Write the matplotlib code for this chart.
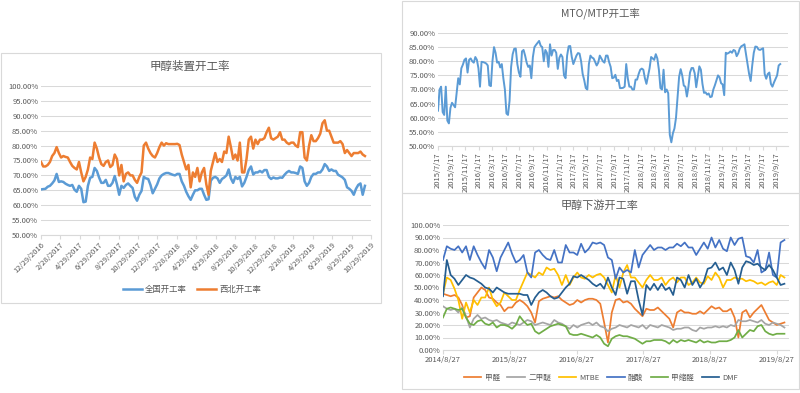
import numpy as np
import pandas as pd
import matplotlib
matplotlib.use("Agg")
import matplotlib.pyplot as plt
from matplotlib.patches import Rectangle

plt.rcParams['font.family'] = ['Noto Sans CJK SC', 'DejaVu Sans']

# ---- left chart: methanol plant operating rate (weekly, from 2016-12-29) ----
left_start = '2016-12-29'
national_rate = [65.3, 65.4, 65.5, 66.2, 66.5, 67.3, 68.3, 70.5, 67.8, 68.0,
                 67.8, 67.2, 66.8, 66.5, 66.8, 65.2, 64.5, 66.5, 65.5, 61.0,
                 61.2, 66.5, 69.2, 69.5, 72.5, 71.5, 69.3, 67.5, 67.5, 68.5,
                 66.5, 66.5, 67.5, 69.8, 67.0, 63.5, 66.5, 65.8, 66.8, 67.3,
                 66.5, 65.8, 62.8, 61.5, 63.5, 64.8, 69.5, 69.0, 68.8, 66.8,
                 64.0, 65.5, 67.0, 69.0, 70.0, 70.5, 70.8, 70.8, 70.5, 70.2,
                 70.0, 70.5, 70.5, 68.0, 66.5, 64.5, 63.0, 61.8, 63.5, 65.0,
                 65.0, 65.5, 65.5, 63.5, 61.8, 62.0, 68.2, 69.2, 69.5, 69.0,
                 67.5, 68.8, 69.3, 70.0, 72.0, 69.0, 67.5, 69.5, 68.8, 69.5,
                 66.3, 67.5, 69.5, 71.8, 73.0, 70.3, 71.0, 71.0, 71.5, 71.0,
                 71.8, 71.8, 69.5, 68.8, 69.3, 69.0, 69.0, 69.3, 69.2, 70.2,
                 71.0, 71.5, 71.0, 71.0, 70.8, 70.5, 73.0, 72.5, 68.0, 66.5,
                 67.5, 69.5, 70.5, 70.5, 71.0, 71.0, 72.0, 73.8, 73.0, 71.5,
                 72.0, 71.5, 71.5, 70.2, 69.8, 69.3, 68.5, 66.0, 65.5, 64.8,
                 63.5, 65.5, 66.8, 67.3, 63.5, 66.5]
northwest_rate = [74.5, 73.0, 73.0, 73.5, 74.5, 76.5, 77.5, 79.5, 77.5, 76.0,
                  76.5, 76.2, 76.0, 74.5, 73.2, 72.5, 72.0, 74.5, 71.0, 68.0,
                  69.5, 72.0, 76.0, 75.5, 81.0, 79.0, 76.0, 73.8, 73.2, 74.5,
                  75.0, 72.8, 73.5, 77.0, 75.5, 70.0, 73.5, 68.0, 70.5, 71.0,
                  70.0, 70.0, 68.5, 67.5, 69.5, 71.0, 80.0, 81.0, 79.0, 77.5,
                  76.5, 76.0, 77.5, 79.5, 81.0, 80.0, 80.8, 80.5, 80.5, 80.5,
                  80.5, 80.6, 80.2, 77.0, 74.5, 72.0, 73.5, 66.0, 71.0, 69.5,
                  72.5, 68.0, 71.0, 72.5, 67.0, 63.5, 71.5, 74.5, 77.5, 74.5,
                  75.5, 74.5, 78.0, 77.5, 83.0, 79.5, 75.5, 77.0, 75.0, 81.0,
                  71.0, 71.0, 75.5, 82.0, 83.0, 79.0, 82.0, 80.5, 82.0, 82.0,
                  82.5, 84.5, 86.0, 82.5, 82.0, 82.5, 83.0, 84.5, 82.0, 82.0,
                  81.0, 80.5, 81.0, 81.0, 80.0, 79.5, 84.5, 84.5, 76.0, 75.0,
                  80.0, 83.5, 81.5, 81.5, 82.5, 84.0, 87.5, 88.5, 85.0, 85.0,
                  83.0, 81.0, 81.0, 81.0, 81.5, 80.5, 77.5, 78.5, 77.5, 76.5,
                  77.5, 77.5, 77.5, 78.0, 77.0, 76.5]
left_ticks = ['12/29/2016', '2/28/2017', '4/29/2017', '6/29/2017', '8/29/2017',
              '10/29/2017', '12/29/2017', '2/28/2018', '4/29/2018', '6/29/2018',
              '8/29/2018', '10/29/2018', '12/29/2018', '2/28/2019', '4/29/2019',
              '6/29/2019', '8/29/2019', '10/29/2019']

# ---- top right: MTO/MTP operating rate (weekly, from 2015-07-17) ----
mto_start = '2015-07-17'
mto_rate = [62.5, 70.0, 71.0, 62.0, 61.0, 71.0, 59.0, 58.0, 63.5, 65.3,
            64.5, 63.7, 69.0, 74.0, 71.8, 77.5, 78.8, 80.5, 81.0, 76.0,
            80.5, 81.0, 80.0, 79.5, 81.5, 80.5, 77.5, 71.0, 79.8, 79.7,
            79.5, 79.2, 78.5, 71.5, 71.2, 80.0, 85.0, 83.0, 79.5, 79.8,
            77.8, 79.0, 74.0, 70.0, 61.5, 61.0, 66.0, 78.0, 82.5, 84.4,
            84.5, 79.0, 76.0, 74.5, 83.5, 84.0, 82.0, 79.5, 78.0, 78.5,
            74.0, 81.5, 85.0, 85.8, 86.5, 87.2, 85.5, 85.0, 80.0, 84.0,
            83.0, 78.0, 86.0, 82.0, 84.0, 84.0, 83.0, 77.3, 81.2, 82.4,
            81.5, 75.0, 74.0, 82.0, 85.3, 85.4, 81.5, 79.0, 80.5, 82.0,
            82.9, 82.7, 80.0, 75.5, 73.3, 70.5, 70.0, 79.0, 82.0, 81.3,
            81.0, 79.8, 78.5, 79.5, 82.0, 81.0, 80.0, 79.5, 82.0, 82.0,
            79.7, 78.0, 74.0, 74.2, 75.2, 73.0, 73.4, 70.5, 70.5, 70.6,
            71.0, 79.0, 74.0, 71.0, 71.0, 70.0, 70.0, 73.5, 73.5, 75.5,
            77.0, 77.4, 77.0, 74.0, 72.0, 74.8, 77.5, 81.5, 81.0, 80.5,
            82.5, 81.0, 77.0, 70.5, 70.0, 77.0, 69.0, 70.0, 68.7, 54.0,
            51.3, 54.5, 56.2, 60.0, 67.5, 74.5, 77.2, 75.0, 71.4, 71.0,
            67.5, 71.0, 76.0, 77.6, 77.6, 75.8, 70.8, 74.5, 78.2, 77.0,
            72.0, 68.8, 69.0, 68.2, 68.6, 67.3, 67.5, 70.0, 71.5, 73.2,
            75.0, 74.3, 72.2, 71.8, 68.0, 83.0, 82.7, 83.0, 83.5, 83.0,
            84.0, 83.7, 81.8, 82.8, 84.5, 85.3, 85.6, 86.0, 82.5, 79.2,
            75.5, 73.0, 78.5, 83.0, 85.2, 85.1, 84.2, 84.0, 84.3, 84.6,
            75.5, 73.8, 75.5, 76.0, 72.0, 71.0, 72.5, 73.8, 75.0, 78.5,
            79.0]
mto_ticks = ['2015/7/17', '2015/9/17', '2015/11/17', '2016/1/17', '2016/3/17',
             '2016/5/17', '2016/7/17', '2016/9/17', '2016/11/17', '2017/1/17',
             '2017/3/17', '2017/5/17', '2017/7/17', '2017/9/17', '2017/11/17',
             '2018/1/17', '2018/3/17', '2018/5/17', '2018/7/17', '2018/9/17',
             '2018/11/17', '2019/1/17', '2019/3/17', '2019/5/17', '2019/7/17',
             '2019/9/17']

# ---- bottom right: downstream operating rates (every 3 weeks, from 2014-08-27) ----
down_start = '2014-08-27'
formaldehyde = [45, 44, 43, 44, 42, 36, 26, 27, 42, 46, 50, 48, 42, 41, 38, 36, 31, 34, 34, 38,
                40, 38, 35, 30, 22, 39, 41, 42, 43, 42, 43, 40, 38, 36, 37, 40, 38, 40, 41, 41,
                40, 37, 22, 6, 30, 40, 41, 38, 39, 37, 33, 30, 27, 33, 32, 32, 34, 31, 28, 25,
                18, 30, 32, 30, 30, 29, 29, 31, 29, 32, 35, 33, 34, 31, 31, 33, 26, 10, 30, 32,
                26, 30, 33, 36, 30, 24, 22, 20, 21, 22]
dme = [35, 33, 32, 33, 30, 34, 27, 18, 25, 28, 25, 26, 24, 23, 24, 22, 21, 20, 22, 21,
       20, 22, 24, 23, 20, 21, 22, 21, 20, 24, 22, 21, 19, 17, 20, 18, 20, 21, 22, 20,
       22, 19, 18, 15, 17, 18, 20, 19, 18, 20, 19, 18, 20, 17, 20, 19, 18, 20, 19, 18,
       16, 17, 17, 18, 18, 16, 15, 18, 17, 18, 18, 19, 18, 19, 18, 20, 19, 24, 23, 23,
       24, 23, 22, 24, 21, 20, 22, 21, 20, 18]
mtbe = [45, 58, 56, 49, 40, 25, 38, 30, 40, 36, 42, 42, 50, 40, 35, 38, 46, 43, 40, 40,
        48, 55, 62, 60, 58, 62, 60, 66, 64, 65, 60, 52, 60, 52, 58, 62, 58, 57, 60, 58,
        60, 61, 58, 52, 46, 60, 50, 62, 68, 58, 58, 54, 50, 56, 60, 56, 56, 58, 52, 56,
        58, 54, 58, 58, 52, 54, 58, 54, 53, 59, 56, 62, 58, 50, 56, 56, 58, 57, 57, 55,
        56, 55, 53, 54, 52, 54, 55, 52, 60, 58]
acetic_acid = [72, 83, 81, 80, 83, 78, 83, 72, 83, 76, 70, 65, 80, 74, 63, 74, 80, 86, 77, 70,
               72, 76, 62, 58, 78, 80, 76, 73, 72, 80, 70, 70, 84, 78, 78, 76, 85, 78, 81, 86,
               85, 86, 84, 74, 72, 57, 66, 62, 64, 62, 80, 66, 76, 80, 84, 80, 82, 82, 80, 82,
               82, 85, 83, 86, 82, 82, 76, 81, 86, 81, 90, 82, 88, 81, 79, 90, 84, 89, 90, 75,
               74, 70, 80, 62, 64, 78, 60, 58, 86, 88]
methylal = [26, 33, 34, 33, 32, 33, 26, 21, 20, 23, 24, 21, 20, 22, 18, 20, 20, 19, 17, 20,
            27, 23, 20, 21, 15, 13, 15, 17, 19, 20, 21, 20, 19, 13, 12, 12, 13, 12, 11, 10,
            12, 10, 5, 3, 9, 11, 12, 11, 11, 10, 9, 7, 5, 7, 7, 8, 8, 8, 7, 5,
            8, 6, 8, 7, 8, 7, 6, 8, 6, 7, 6, 6, 7, 7, 7, 8, 10, 16, 10, 13,
            16, 15, 19, 20, 15, 13, 12, 13, 13, 13]
dmf = [43, 72, 60, 57, 52, 56, 60, 58, 57, 55, 53, 50, 49, 46, 50, 48, 46, 45, 45, 45,
       45, 44, 44, 36, 42, 46, 48, 46, 43, 41, 42, 46, 50, 53, 59, 58, 60, 58, 56, 53,
       51, 53, 49, 58, 50, 44, 58, 57, 45, 55, 55, 40, 28, 52, 48, 53, 48, 53, 48, 50,
       44, 58, 56, 50, 60, 52, 57, 50, 55, 65, 66, 70, 64, 66, 60, 70, 64, 53, 66, 71,
       70, 68, 69, 66, 64, 68, 64, 58, 52, 53]
down_ticks = ['2014/8/27', '2015/8/27', '2016/8/27', '2017/8/27', '2018/8/27', '2019/8/27']
down_names = ['甲醛', '二甲醚', 'MTBE', '醋酸', '甲缩醛', 'DMF']
down_colors = ['#ED7D31', '#A5A5A5', '#FFC000', '#4472C4', '#70AD47', '#255E91']

W, H = 800, 393
TXT = '#595959'
GRID = '#D9D9D9'


def px_rect(x0, y0, x1, y1):
    # pixel box (top-left origin) -> figure fraction [left, bottom, width, height]
    return [x0 / W, 1 - y1 / H, (x1 - x0) / W, (y1 - y0) / H]


def panel_border(fig, x0, y0, x1, y1):
    r = px_rect(x0, y0, x1, y1)
    fig.add_artist(Rectangle((r[0], r[1]), r[2], r[3], transform=fig.transFigure,
                             fill=False, edgecolor=GRID, linewidth=0.8))


def style_axis(ax, ymin, ymax, ystep):
    yt = np.arange(ymin, ymax + 0.01, ystep)
    ax.set_ylim(ymin, ymax)
    ax.set_yticks(yt)
    ax.set_yticklabels(['{:.2f}%'.format(v) for v in yt])
    ax.grid(axis='y', color=GRID, linewidth=0.75)
    ax.set_axisbelow(True)
    for s in ['top', 'right', 'left']:
        ax.spines[s].set_visible(False)
    ax.spines['bottom'].set_color(GRID)
    ax.tick_params(axis='y', length=0, labelsize=5.5, labelcolor=TXT, pad=2)
    ax.tick_params(axis='x', length=3, color=GRID, labelsize=5.5, labelcolor=TXT, pad=1.5)
    ax.patch.set_alpha(0)


fig = plt.figure(figsize=(8, 3.93), dpi=100)

panel_border(fig, 0.5, 53, 381, 303)
panel_border(fig, 402, 1, 799.5, 193)
panel_border(fig, 402, 193, 799.5, 389)

# left chart
ax1 = fig.add_axes(px_rect(41, 86, 371, 235))
left_dates = pd.date_range(left_start, periods=len(national_rate), freq='7D')
ax1.plot(left_dates, national_rate, color='#5B9BD5', linewidth=1.8, label='全国开工率')
ax1.plot(left_dates, northwest_rate, color='#ED7D31', linewidth=1.8, label='西北开工率')
style_axis(ax1, 50, 100, 5)
lt = pd.to_datetime(left_ticks, format='%m/%d/%Y')
ax1.set_xlim(lt[0], lt[-1])
ax1.set_xticks(lt)
ax1.set_xticklabels(left_ticks, rotation=45, ha='right', rotation_mode='anchor')
fig.text(190 / W, 1 - 66 / H, '甲醇装置开工率', ha='center', va='center', fontsize=8.3, color=TXT)
ax1.legend(loc='center', bbox_to_anchor=(192 / W, 1 - 289 / H), bbox_transform=fig.transFigure,
           ncol=2, frameon=False, fontsize=6, handlelength=2.3, columnspacing=1.2,
           handletextpad=0.4, labelcolor=TXT)

# top right chart
ax2 = fig.add_axes(px_rect(438, 33, 788, 146))
mto_dates = pd.date_range(mto_start, periods=len(mto_rate), freq='7D')
ax2.plot(mto_dates, mto_rate, color='#5B9BD5', linewidth=1.4)
style_axis(ax2, 50, 90, 5)
mt = pd.to_datetime(mto_ticks, format='%Y/%m/%d')
ax2.set_xlim(mt[0], pd.Timestamp('2019-11-08'))
ax2.set_xticks(mt)
ax2.set_xticklabels(mto_ticks, rotation=90, ha='center', va='top')
fig.text(600 / W, 1 - 14 / H, 'MTO/MTP开工率', ha='center', va='center', fontsize=7.5, color=TXT)

# bottom right chart
ax3 = fig.add_axes(px_rect(443, 225, 789, 350))
down_dates = pd.date_range(down_start, periods=len(dme), freq='21D')
for name, vals, col in zip(down_names,
                           [formaldehyde, dme, mtbe, acetic_acid, methylal, dmf],
                           down_colors):
    ax3.plot(down_dates, vals, color=col, linewidth=1.25, label=name)
style_axis(ax3, 0, 100, 10)
dt = pd.to_datetime(down_ticks, format='%Y/%m/%d')
ax3.set_xlim(dt[0], pd.Timestamp('2019-11-03'))
ax3.set_xticks(dt)
ax3.set_xticklabels(down_ticks)
fig.text(600 / W, 1 - 206 / H, '甲醇下游开工率', ha='center', va='center', fontsize=8, color=TXT)
ax3.legend(loc='center', bbox_to_anchor=(601 / W, 1 - 378 / H), bbox_transform=fig.transFigure,
           ncol=6, frameon=False, fontsize=5.5, handlelength=2.3, columnspacing=1.0,
           handletextpad=0.4, labelcolor=TXT)

fig.savefig('out.png', dpi=100, facecolor='white')
